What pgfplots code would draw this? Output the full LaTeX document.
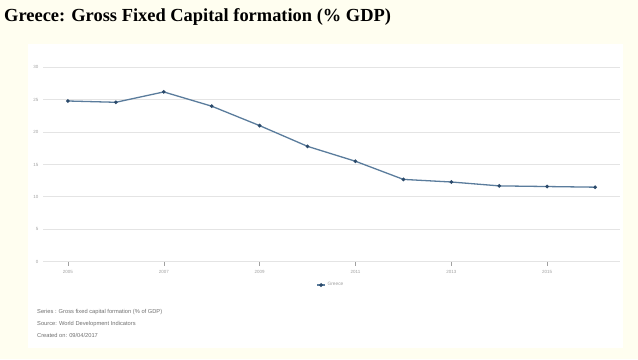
\documentclass[border=0pt]{standalone}
\usepackage{fontspec}
\setmainfont{Liberation Serif}
\setsansfont{Liberation Sans}
\usepackage{pgfplots}
\pgfplotsset{compat=1.18}
\definecolor{cream}{HTML}{FFFEF0}
\definecolor{gridc}{HTML}{E4E4E4}
\definecolor{linec}{HTML}{5A7C9C}
\definecolor{markc}{HTML}{2B4A6B}
\definecolor{tickc}{HTML}{A0A0A0}
\definecolor{notec}{HTML}{707070}
\begin{document}
\begin{tikzpicture}[x=1bp,y=1bp]
\fill[cream] (0,0) rectangle (638,359);
\fill[white] (28,11) rectangle (623,315);
\node[anchor=west,font=\fontsize{18.5}{20}\selectfont\bfseries,inner sep=0] at (4,342.5) {Greece: Gross Fixed Capital formation (\% GDP)};
\begin{axis}[
  at={(43bp,97.3bp)}, anchor=south west,
  scale only axis, width=577bp, height=194.4bp,
  xmin=2004.48, xmax=2016.52, ymin=0, ymax=30,
  enlargelimits=false,
  axis line style={draw=none},
  axis x line*=bottom, axis y line*=left,
  xtick={2005,2007,2009,2011,2013,2015},
  ytick={0,5,10,15,20,25,30},
  xtick align=outside, major tick length=4bp,
  x tick style={tickc, line width=0.5pt},
  y tick style={draw=none},
  ymajorgrids, grid style={gridc, line width=1.1pt},
  ticklabel style={font=\sffamily\fontsize{4.5}{5}\selectfont, text=tickc},
  xticklabel style={/pgf/number format/1000 sep=, yshift=-1bp},
  yticklabel style={xshift=-1bp},
  /pgf/number format/assume math mode=true,
  legend style={at={(axis description cs:0.499,-0.12)}, anchor=center, draw=none, fill=none,
    font=\sffamily\fontsize{4.8}{5}\selectfont, text=tickc, legend cell align=left},
  legend image code/.code={\draw[#1, line width=1.2pt] (0,0) -- (8bp,0); \fill[markc] (4bp,0) circle (1.2pt);},
]
\addplot[linec, line width=1.3pt, mark=*, mark size=1.1pt, mark options={fill=markc, draw=markc}]
coordinates {
(2005,24.8) (2006,24.6) (2007,26.2) (2008,24.0) (2009,21.0) (2010,17.8)
(2011,15.5) (2012,12.7) (2013,12.3) (2014,11.7) (2015,11.6) (2016,11.5)
};
\addlegendentry{Greece}
\end{axis}
\node[anchor=west,font=\sffamily\fontsize{5.75}{6}\selectfont,text=notec,inner sep=0] at (37,46.5) {Series : Gross fixed capital formation (\% of GDP)};
\node[anchor=west,font=\sffamily\fontsize{5.75}{6}\selectfont,text=notec,inner sep=0] at (37,35) {Source: World Development Indicators};
\node[anchor=west,font=\sffamily\fontsize{5.75}{6}\selectfont,text=notec,inner sep=0] at (37,23.5) {Created on: 09/04/2017};
\end{tikzpicture}
\end{document}
